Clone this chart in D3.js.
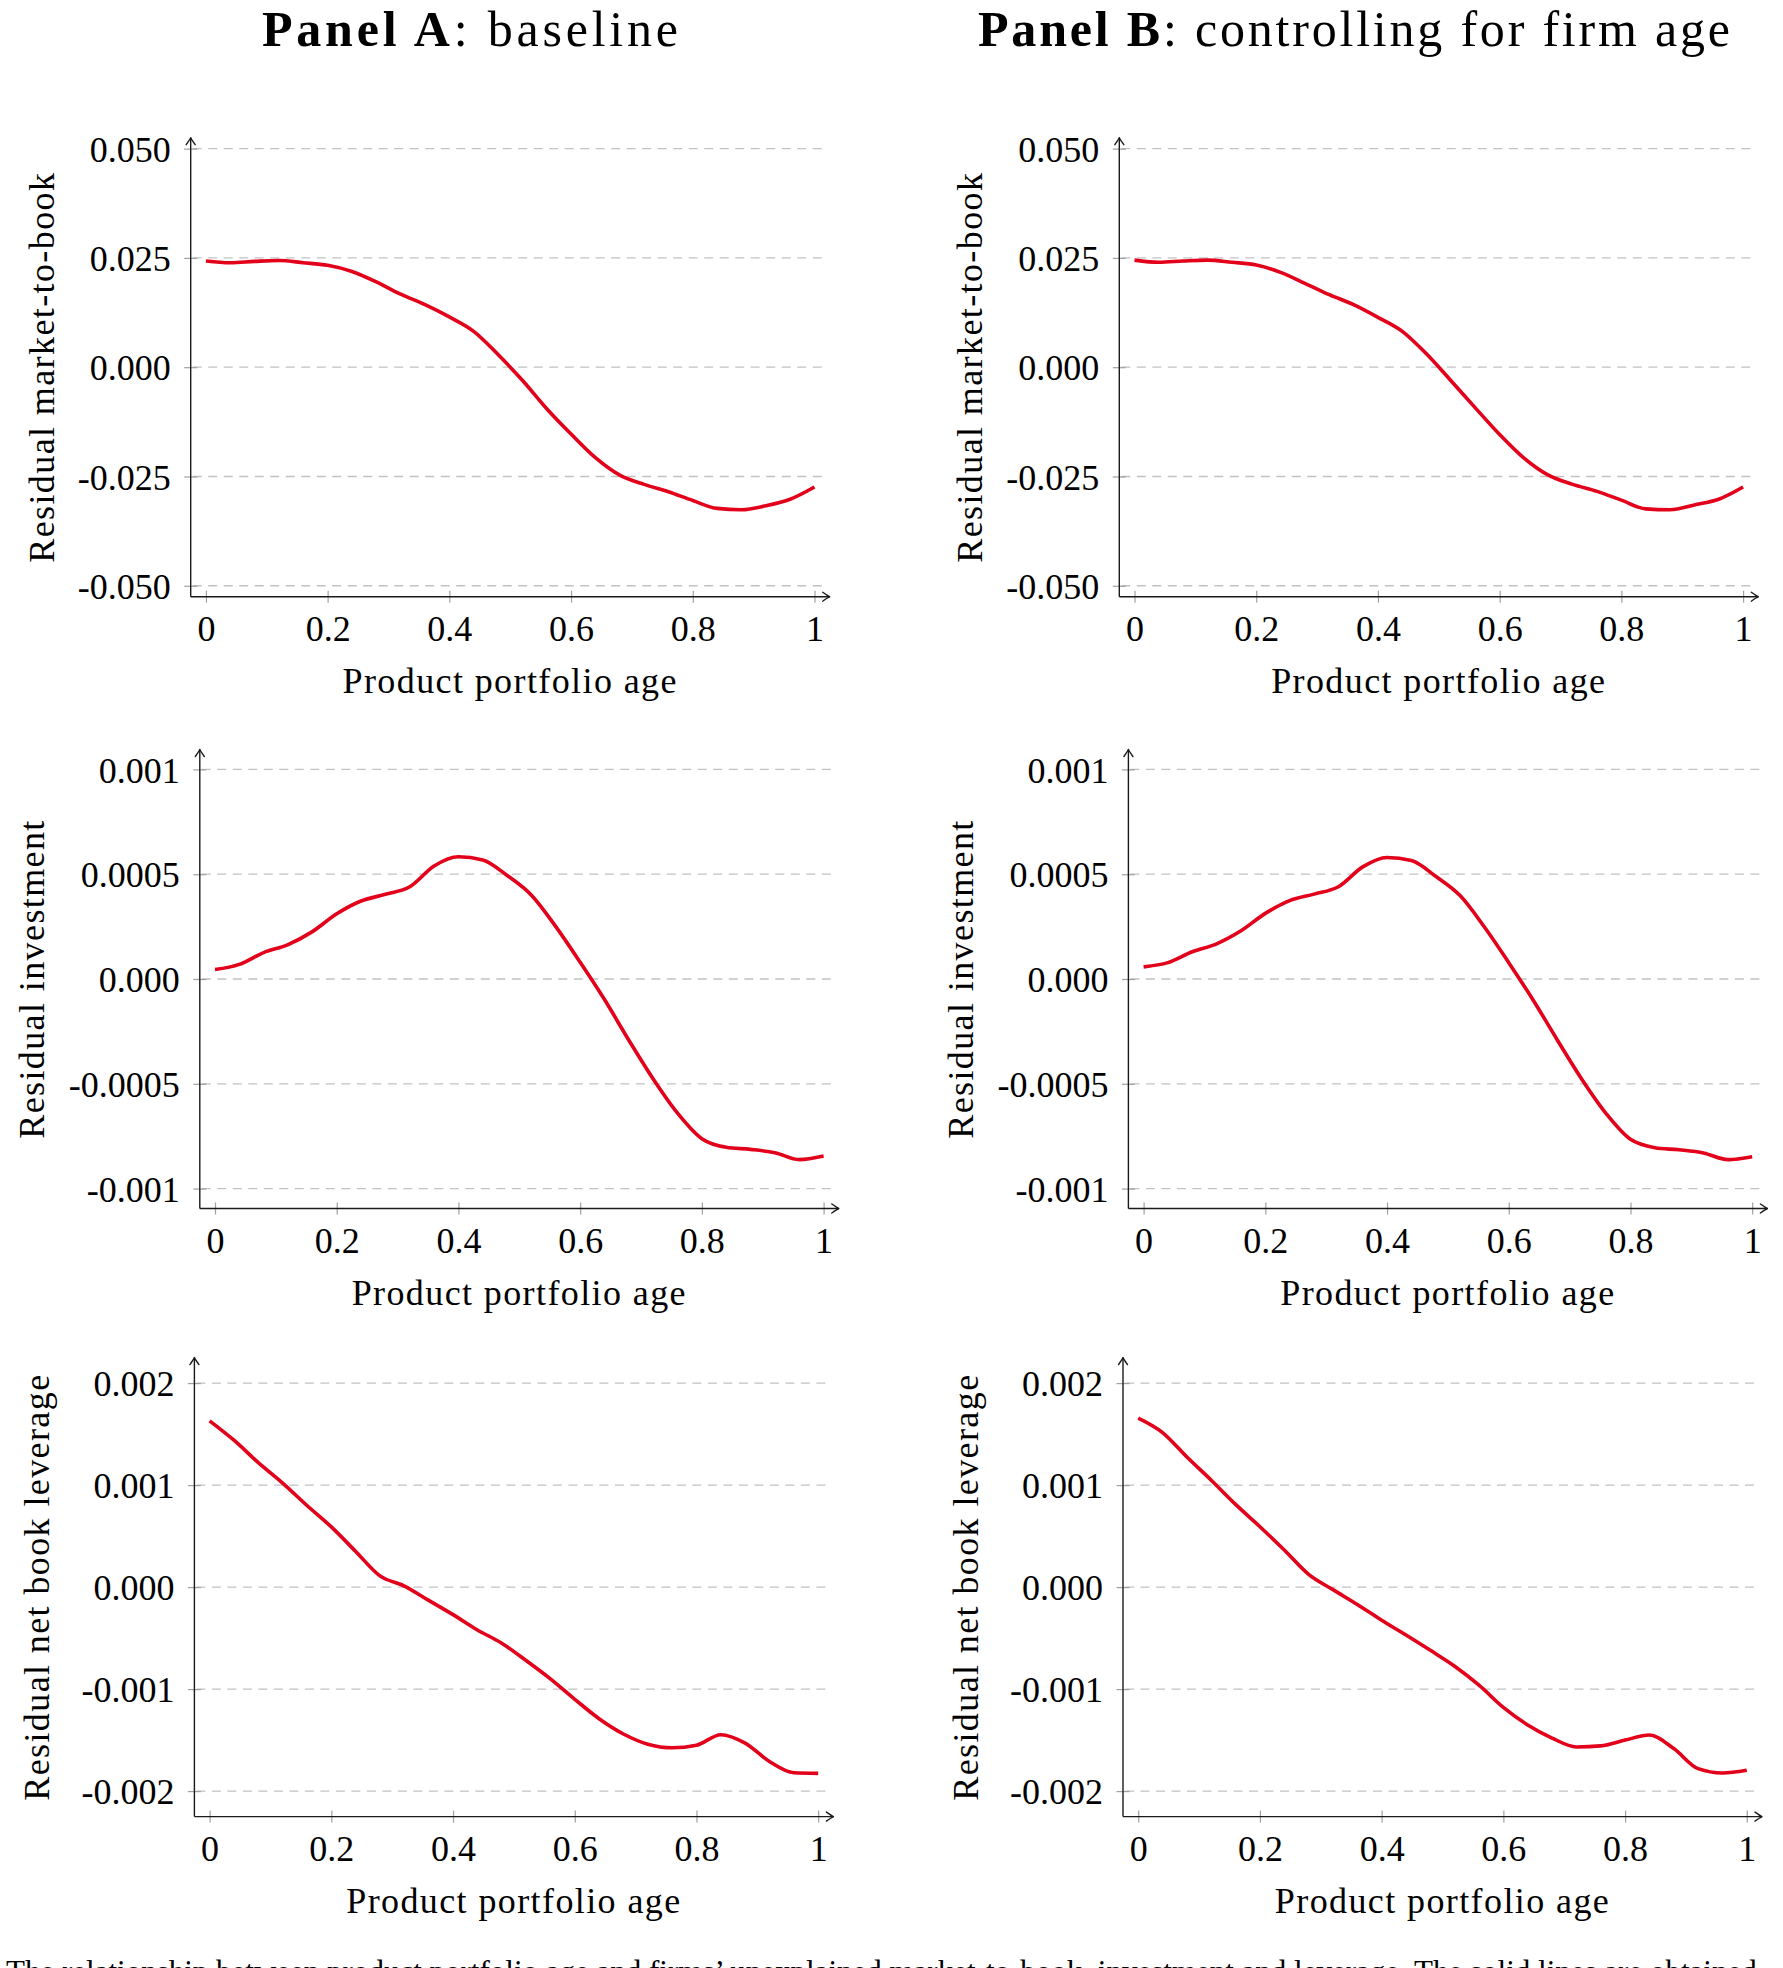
<!DOCTYPE html>
<meta charset="utf-8">
<style>
body { margin: 0; background: #fff; }
svg { display: block; background: #fff; }
text { font-family: "Liberation Serif", "Times New Roman", serif; fill: #000; }
.tick text { font-size: 36px; font-family: "Liberation Serif", serif; fill: #000; }
.axis-label { font-size: 36px; letter-spacing: 1.4px; }
.title { font-size: 50px; }
.caption { font-size: 31px; }
.grid line { stroke: #c2c2c2; stroke-width: 1.3px; stroke-dasharray: 9 6.5; }
.tick line { stroke: #a0a0a0; stroke-width: 1.2px; }
.axis-line { stroke: #1a1a1a; stroke-width: 1.4px; fill: none; }
.arrow { stroke: #1a1a1a; stroke-width: 1.4px; fill: none; stroke-linecap: round; stroke-linejoin: round; }
.curve { fill: none; stroke: #e2001a; stroke-width: 3.6px; stroke-linejoin: round; }
</style>
<body>
<div id="chart"></div>
<script src="https://cdn.jsdelivr.net/npm/d3@7"></script>
<script>

// product portfolio age grid (x)
var ages = [0, 0.04, 0.08, 0.12, 0.16, 0.2, 0.24, 0.28, 0.32, 0.36, 0.4, 0.44, 0.48,
            0.52, 0.56, 0.6, 0.64, 0.68, 0.72, 0.76, 0.8, 0.84, 0.88, 0.92, 0.96, 1];

// residual market-to-book
var mtbA = [0.0243, 0.0239, 0.0242, 0.0244, 0.0239, 0.0233, 0.0219, 0.0195, 0.0167, 0.0143, 0.0115, 0.0082, 0.0029,
            -0.0030, -0.0095, -0.0153, -0.0207, -0.0247, -0.0268, -0.0285, -0.0305, -0.0323, -0.0326, -0.0317, -0.0302, -0.0274];
var mtbB = [0.0245, 0.0240, 0.0243, 0.0245, 0.0240, 0.0234, 0.0217, 0.0192, 0.0166, 0.0143, 0.0114, 0.0082, 0.0030,
            -0.0031, -0.0093, -0.0154, -0.0208, -0.0247, -0.0268, -0.0284, -0.0304, -0.0324, -0.0326, -0.0315, -0.0302, -0.0274];

// residual investment
var invA = [0.000045, 0.000070, 0.000126, 0.000164, 0.000226, 0.000311, 0.000372, 0.000404, 0.000440, 0.000539, 0.000583, 0.000568, 0.000494,
            0.000400, 0.000250, 0.000080, -0.000098, -0.000292, -0.000477, -0.000640, -0.000762, -0.000803, -0.000813, -0.000829, -0.000862, -0.000845];
var invB = [0.000058, 0.000078, 0.000130, 0.000168, 0.000230, 0.000313, 0.000374, 0.000405, 0.000440, 0.000535, 0.000580, 0.000565, 0.000490,
            0.000398, 0.000248, 0.000078, -0.000100, -0.000292, -0.000478, -0.000642, -0.000765, -0.000805, -0.000815, -0.000830, -0.000862, -0.000848];

// residual net book leverage
var levA = [0.00163, 0.00144, 0.00122, 0.00102, 0.00080, 0.00059, 0.00035, 0.00011, 0.00001, -0.00013, -0.00027, -0.00042, -0.00055,
            -0.00072, -0.00090, -0.00110, -0.00129, -0.00144, -0.00154, -0.001575, -0.00155, -0.001447, -0.00153, -0.00171, -0.00182, -0.001826];
var levB = [0.001657, 0.001515, 0.001275, 0.001048, 0.000811, 0.000592, 0.000364, 0.000125, -0.000025, -0.000170, -0.000325, -0.000470, -0.000620,
            -0.000776, -0.000962, -0.001180, -0.001352, -0.001480, -0.001567, -0.001557, -0.001500, -0.001450, -0.001583, -0.001780, -0.001823, -0.001796];

// ticks
var xTicks = [0, 0.2, 0.4, 0.6, 0.8, 1];
var xTickLabels = ["0", "0.2", "0.4", "0.6", "0.8", "1"];
var mtbTicks = [-0.05, -0.025, 0, 0.025, 0.05];
var mtbTickLabels = ["-0.050", "-0.025", "0.000", "0.025", "0.050"];
var invTicks = [-0.001, -0.0005, 0, 0.0005, 0.001];
var invTickLabels = ["-0.001", "-0.0005", "0.000", "0.0005", "0.001"];
var levTicks = [-0.002, -0.001, 0, 0.001, 0.002];
var levTickLabels = ["-0.002", "-0.001", "0.000", "0.001", "0.002"];

var xLabel = "Product portfolio age";
var yLabels = ["Residual market-to-book", "Residual investment", "Residual net book leverage"];
var caption = "The relationship between product portfolio age and firms\u2019 unexplained market-to-book, investment and leverage. The solid lines are obtained";

var W = 1783, H = 1968;
var plotW = 639, plotH = 459;
var xLimits = [-0.025, 1.025];

var svg = d3.select("#chart").append("svg")
    .attr("width", W)
    .attr("height", H);

// column titles
var titles = [
  {bold: "Panel A", rest: ": baseline", cx: 470, len: 416},
  {bold: "Panel B", rest: ": controlling for firm age", cx: 1354, len: 752}
];
titles.forEach(function(t) {
  var tt = svg.append("text").attr("class", "title")
      .attr("x", t.cx).attr("y", 46).attr("text-anchor", "middle")
      .attr("textLength", t.len).attr("lengthAdjust", "spacing");
  tt.append("tspan").attr("font-weight", "bold").text(t.bold);
  tt.append("tspan").text(t.rest);
});

function drawPanel(cfg) {
  var top = cfg.bottom - plotH;
  var g = svg.append("g").attr("transform", "translate(" + cfg.left + "," + top + ")");

  var x = d3.scaleLinear().domain(xLimits).range([0, plotW]);
  var y = d3.scaleLinear().domain(cfg.yLimits).range([plotH, 0]);

  // dashed grid
  g.append("g").attr("class", "grid")
    .selectAll("line").data(cfg.yTicks).join("line")
      .attr("x1", 2).attr("x2", plotW - 3)
      .attr("y1", function(d) { return y(d); })
      .attr("y2", function(d) { return y(d); });

  // x axis
  var xa = g.append("g").attr("transform", "translate(0," + plotH + ")")
      .call(d3.axisBottom(x).tickValues(xTicks)
              .tickFormat(function(d, i) { return xTickLabels[i]; })
              .tickSize(6).tickPadding(0));
  xa.select(".domain").remove();
  xa.selectAll(".tick line").attr("y1", -6).attr("y2", 6);
  xa.selectAll(".tick text").attr("y", 44).attr("dy", null);

  // y axis
  var ya = g.append("g")
      .call(d3.axisLeft(y).tickValues(cfg.yTicks)
              .tickFormat(function(d, i) { return cfg.yTickLabels[i]; })
              .tickSize(6).tickPadding(0));
  ya.select(".domain").remove();
  ya.selectAll(".tick line").attr("x1", -6.5).attr("x2", 6.5);
  ya.selectAll(".tick text").attr("x", -20).attr("dy", "0.35em");

  // axis lines with arrow heads
  g.append("path").attr("class", "axis-line")
    .attr("d", "M0," + plotH + "H" + plotW);
  g.append("path").attr("class", "axis-line")
    .attr("d", "M0," + plotH + "V0");
  g.append("path").attr("class", "arrow")
    .attr("d", "M" + (plotW - 7) + "," + (plotH - 4.5) + "Q" + (plotW - 2) + "," + (plotH - 1) + " " + plotW + "," + plotH +
               "Q" + (plotW - 2) + "," + (plotH + 1) + " " + (plotW - 7) + "," + (plotH + 4.5));
  g.append("path").attr("class", "arrow")
    .attr("d", "M-4.5,7Q-1,2 0,0Q1,2 4.5,7");

  // curve
  var line = d3.line()
      .x(function(d, i) { return x(ages[i]); })
      .y(function(d) { return y(d); })
      .curve(d3.curveMonotoneX);
  g.append("path").attr("class", "curve").attr("d", line(cfg.values));

  // labels
  g.append("text").attr("class", "axis-label")
    .attr("x", x(0.5)).attr("y", plotH + 96)
    .attr("text-anchor", "middle")
    .text(xLabel);
  g.append("text").attr("class", "axis-label")
    .attr("transform", "translate(" + (-cfg.ylabOff) + "," + (plotH / 2) + ") rotate(-90)")
    .attr("text-anchor", "middle")
    .text(cfg.yLabel);
}

var panels = [
  {left: 190.7,  bottom: 596.7,  yLimits: [-0.0525, 0.0525],     yTicks: mtbTicks, yTickLabels: mtbTickLabels, values: mtbA, yLabel: yLabels[0], ylabOff: 137},
  {left: 1119.3, bottom: 596.7,  yLimits: [-0.0525, 0.0525],     yTicks: mtbTicks, yTickLabels: mtbTickLabels, values: mtbB, yLabel: yLabels[0], ylabOff: 137},
  {left: 199.8,  bottom: 1208.5, yLimits: [-0.001095, 0.001095], yTicks: invTicks, yTickLabels: invTickLabels, values: invA, yLabel: yLabels[1], ylabOff: 156},
  {left: 1128.4, bottom: 1208.5, yLimits: [-0.001095, 0.001095], yTicks: invTicks, yTickLabels: invTickLabels, values: invB, yLabel: yLabels[1], ylabOff: 155},
  {left: 194.4,  bottom: 1816.6, yLimits: [-0.00225, 0.00225],   yTicks: levTicks, yTickLabels: levTickLabels, values: levA, yLabel: yLabels[2], ylabOff: 145},
  {left: 1123,   bottom: 1816.6, yLimits: [-0.00225, 0.00225],   yTicks: levTicks, yTickLabels: levTickLabels, values: levB, yLabel: yLabels[2], ylabOff: 145}
];
panels.forEach(drawPanel);

// caption (cut off at the bottom edge of the page, as in the source)
svg.append("text").attr("class", "caption")
  .attr("x", 6).attr("y", 1982)
  .text(caption);

</script>
